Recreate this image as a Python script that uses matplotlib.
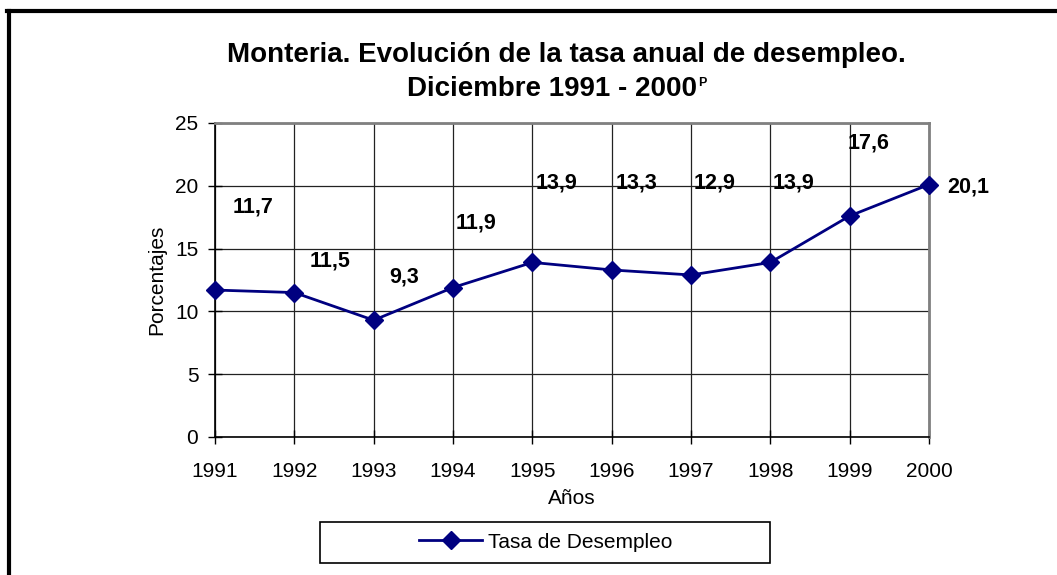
import numpy as np
import matplotlib.pyplot as plt
from matplotlib.lines import Line2D
from matplotlib.patches import Rectangle

plt.rcParams['font.family'] = ['Liberation Sans', 'DejaVu Sans']

# data
years = [1991, 1992, 1993, 1994, 1995, 1996, 1997, 1998, 1999, 2000]
tasa = [11.7, 11.5, 9.3, 11.9, 13.9, 13.3, 12.9, 13.9, 17.6, 20.1]
labels = ['11,7', '11,5', '9,3', '11,9', '13,9', '13,3', '12,9', '13,9', '17,6', '20,1']

# where excel put the data labels (offsets in data units)
lab_dx = [0.48, 0.45, 0.38, 0.29, 0.30, 0.31, 0.30, 0.29, 0.24, 0.49]
lab_dy = [6.6, 2.5, 3.4, 5.1, 6.3, 6.9, 7.3, 6.3, 5.8, -0.2]

navy = '#000080'
W, H = 1057, 575

fig = plt.figure(figsize=(10.57, 5.75), dpi=100)
fig.patch.set_facecolor('white')

# frame lines (top / left) of the original picture
fig.add_artist(Line2D([7 / W, 1.0], [1 - 11 / H, 1 - 11 / H], color='black', lw=3,
                      transform=fig.transFigure))
fig.add_artist(Line2D([9 / W, 9 / W], [0.0, 1 - 11 / H], color='black', lw=3,
                      transform=fig.transFigure))

ax = fig.add_axes([215 / W, 1 - 437 / H, (929 - 215) / W, (437 - 123) / H])
ax.plot(years, tasa, color=navy, lw=2, marker='D', markersize=9, zorder=5, clip_on=False,
        label='Tasa de Desempleo')

for x, y, t, dx, dy in zip(years, tasa, labels, lab_dx, lab_dy):
    ax.text(x + dx, y + dy, t, ha='center', va='center', fontsize=15.5, fontweight='bold',
            zorder=6, clip_on=False)

ax.set_xlim(1991, 2000)
ax.set_ylim(0, 25)
ax.set_xticks(years)
ax.set_yticks(np.arange(0, 26, 5))
ax.grid(True, color='#222222', lw=0.9)
ax.set_axisbelow(True)
ax.tick_params(direction='inout', length=10, width=1, labelsize=15, pad=7)
ax.tick_params(axis='x', pad=13)
for s in ['top', 'right']:
    ax.spines[s].set_color('#808080')
    ax.spines[s].set_linewidth(2)
for s in ['left', 'bottom']:
    ax.spines[s].set_color('black')
    ax.spines[s].set_linewidth(1.2)

ax.set_xlabel('Años', fontsize=15, labelpad=6)
ax.set_ylabel('Porcentajes', fontsize=15, labelpad=6)

fig.text(566 / W, 1 - 55 / H, 'Monteria. Evolución de la tasa anual de desempleo.',
         ha='center', va='center', fontsize=20, fontweight='bold')
t2 = fig.text(552 / W, 1 - 89 / H, 'Diciembre 1991 - 2000',
              ha='center', va='center', fontsize=20, fontweight='bold')
fig.canvas.draw()
bb = t2.get_window_extent(fig.canvas.get_renderer())
fig.text(bb.x1 / W + 1 / W, (bb.y1 - 7) / H, 'P', ha='left', va='center', fontsize=9,
         fontweight='bold')

# legend box
fig.add_artist(Rectangle((320 / W, 1 - 563 / H), 450 / W, 41 / H, transform=fig.transFigure,
                         facecolor='white', edgecolor='black', lw=1.2))
leg = fig.legend(loc='center', bbox_to_anchor=(546 / W, 1 - 542 / H), fontsize=15,
                 frameon=False, handlelength=3.0, handletextpad=0.3, borderaxespad=0)

fig.savefig('out.png', dpi=100, facecolor='white')
